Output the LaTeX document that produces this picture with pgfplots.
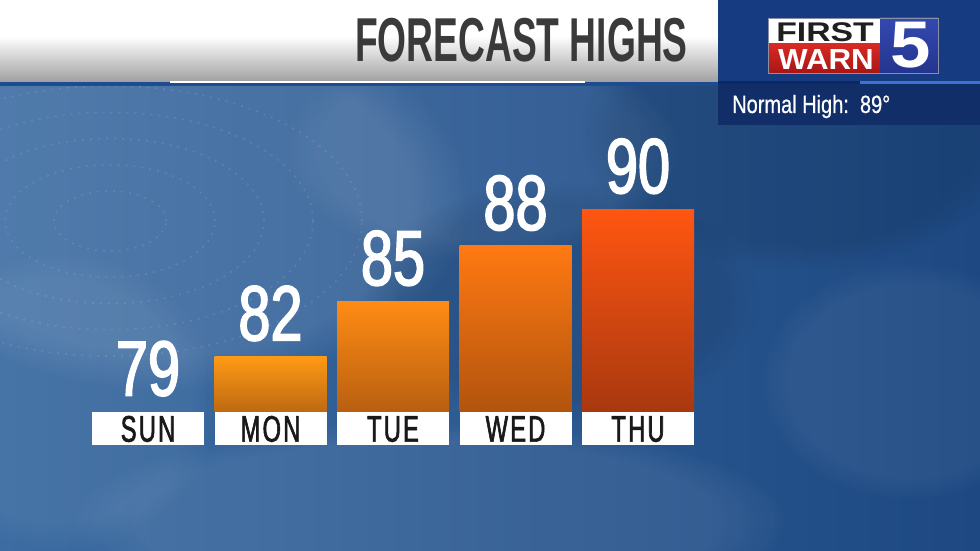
\documentclass[border=0pt]{standalone}
\usepackage{fontspec}
\usepackage{graphicx}
\usepackage{pgfplots}
\pgfplotsset{compat=1.18}
\usepackage{pgfplotstable}
\usetikzlibrary{fadings}
\setmainfont{Liberation Sans}
\newfontfamily\numfont[FakeStretch=0.74,FakeBold=2]{Liberation Sans}
\newfontfamily\dayfont[FakeStretch=0.64,FakeBold=1.6,LetterSpace=6]{Liberation Sans}
\newfontfamily\titlefont[FakeStretch=0.6]{Liberation Sans Bold}
\newfontfamily\normfont[FakeStretch=0.8,FakeBold=0.6]{Liberation Sans}
\definecolor{bgL}{HTML}{3C6CA2}
\definecolor{bgR}{HTML}{1D4882}
\definecolor{navyA}{HTML}{173B80}
\definecolor{navyB}{HTML}{112E68}
\definecolor{titlegray}{HTML}{3A3A3A}
\definecolor{barAt}{HTML}{FF9A15}\definecolor{barAb}{HTML}{BE6912}
\definecolor{barBt}{HTML}{FF8C14}\definecolor{barBb}{HTML}{B85F10}
\definecolor{barCt}{HTML}{FF7912}\definecolor{barCb}{HTML}{B2540E}
\definecolor{barDt}{HTML}{FF5611}\definecolor{barDb}{HTML}{A9380F}
\definecolor{tbgray}{HTML}{A0A0A0}
\definecolor{stripe}{HTML}{1E4C92}
\definecolor{lineDark}{HTML}{0D285C}
\definecolor{lineBright}{HTML}{3C72D6}
\definecolor{redT}{HTML}{D82A22}\definecolor{redB}{HTML}{A81616}
\definecolor{bluT}{HTML}{3448B0}\definecolor{bluB}{HTML}{24358E}
\definecolor{logoedge}{HTML}{8A8FA8}
\pgfplotstableread{
x     t
148   79
270.5 82
393   85
515.5 88
638   90
}\temps
\begin{document}
\begin{tikzpicture}[x=1pt,y=1pt]
\useasboundingbox (0,0) rectangle (980,551);
% background
\shade[left color=bgL, right color=bgR] (0,0) rectangle (980,551);
\fill[white, opacity=0.10, path fading=circle with fuzzy edge 20 percent] (170,350) ellipse (300 and 190);
\fill[white, opacity=0.06, path fading=circle with fuzzy edge 20 percent] (480,400) ellipse (200 and 110);
\fill[white, opacity=0.07, path fading=circle with fuzzy edge 20 percent] (430,30) ellipse (360 and 100);
\fill[white, opacity=0.06, path fading=circle with fuzzy edge 20 percent] (60,150) ellipse (160 and 150);
\fill[white, opacity=0.05, path fading=circle with fuzzy edge 20 percent] (910,170) ellipse (150 and 120);
\fill[black, opacity=0.10, path fading=circle with fuzzy edge 20 percent] (800,420) ellipse (220 and 140);
\fill[black, opacity=0.08, path fading=circle with fuzzy edge 20 percent] (560,250) ellipse (200 and 120);
\foreach \r in {40,75,110,145,180}{
  \draw[white, opacity=0.10, line width=1.6pt, dash pattern=on 2pt off 6pt] (110,330) ellipse ({\r*1.4} and \r*0.75);
}
% chart
\begin{axis}[
  at={(0pt,0pt)}, anchor=south west,
  width=980pt, height=551pt, scale only axis,
  xmin=0, xmax=980, ymin=-7.582, ymax=22.364,
  axis line style={draw=none}, major tick length=0pt,
  ytick=\empty, xtick=data, xticklabels={SUN,MON,TUE,WED,THU},
  xticklabel style={anchor=north, yshift=139.5pt, fill=white,
    minimum width=112pt, minimum height=33.5pt, inner sep=0pt,
    text height=26.5pt, text depth=0pt, text=black!90,
    font=\dayfont\fontsize{37}{37}\selectfont},
  clip=false,
  y filter/.expression={y-79},
]
\addplot[ybar, bar width=112, bar shift=0pt, draw=none, fill=none,
  nodes near coords={\pgfplotspointmeta}, point meta=explicit symbolic,
  every node near coord/.style={anchor=base, yshift=16pt, inner sep=0pt, text=white,
    font=\numfont\fontsize{78}{78}\selectfont}]
  table[x=x, y=t, meta=t]{\temps};
\addplot[ybar, bar width=112, bar shift=0pt, draw=none, top color=barAt, bottom color=barAb,
  skip coords between index={0}{1}, skip coords between index={2}{5}]
  table[x=x, y=t]{\temps};
\addplot[ybar, bar width=112, bar shift=0pt, draw=none, top color=barBt, bottom color=barBb,
  skip coords between index={0}{2}, skip coords between index={3}{5}]
  table[x=x, y=t]{\temps};
\addplot[ybar, bar width=112, bar shift=0pt, draw=none, top color=barCt, bottom color=barCb,
  skip coords between index={0}{3}, skip coords between index={4}{5}]
  table[x=x, y=t]{\temps};
\addplot[ybar, bar width=112, bar shift=0pt, draw=none, top color=barDt, bottom color=barDb,
  skip coords between index={0}{4}]
  table[x=x, y=t]{\temps};
\end{axis}
% title bar
\fill[white] (0,469) rectangle (718,551);
\shade[top color=white, bottom color=tbgray] (0,469) rectangle (718,515);
\fill[stripe] (0,465) rectangle (718,469);
\fill[white] (170,467.5) rectangle (585,470);
\node[anchor=base east, inner sep=0pt, text=titlegray, font=\titlefont\fontsize{62}{62}\selectfont] at (688,489) {FORECAST HIGHS};
% logo panel
\fill[navyA] (718,469) rectangle (980,551);
\fill[navyB] (718,426) rectangle (980,469);
\fill[lineDark] (718,467) rectangle (860,470);
\fill[lineBright] (860,467) rectangle (980,470);
\fill[white] (768,507) rectangle (880,533);
\shade[top color=redT, bottom color=redB] (768,478) rectangle (880,507);
\shade[top color=bluT, bottom color=bluB] (880,478) rectangle (938,533);
\draw[logoedge, line width=0.8pt] (768,478) rectangle (938,533);
\node[anchor=base, inner sep=0pt, text=black!88, font=\bfseries\fontsize{27}{27}\selectfont] at (825,509.5) {\scalebox{1.25}[1]{FIRST}};
\node[anchor=base, inner sep=0pt, text=white, font=\bfseries\fontsize{29}{29}\selectfont] at (826,481) {\scalebox{1.08}[1]{WARN}};
\node[anchor=base, inner sep=0pt, text=white, font=\bfseries\fontsize{66}{66}\selectfont] at (911,483) {\scalebox{1.1}[1]{5}};
\node[anchor=base west, inner sep=0pt, text=white, font=\normfont\fontsize{25}{25}\selectfont] at (732,438) {Normal High:\ \ 89°};
\end{tikzpicture}
\end{document}
